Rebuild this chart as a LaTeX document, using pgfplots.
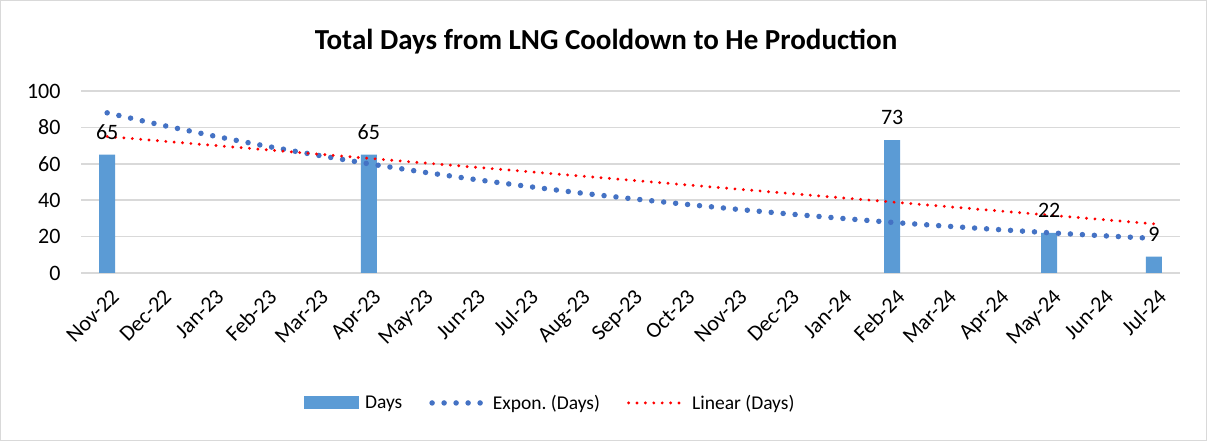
\documentclass[border=0pt]{standalone}
\usepackage{pgfplots}
\pgfplotsset{compat=1.18}
\usepackage{fontspec}
\setmainfont{Carlito}
\frenchspacing
\definecolor{barblue}{HTML}{5B9BD5}
\definecolor{expblue}{HTML}{4472C4}
\definecolor{gridgray}{HTML}{D9D9D9}
\tikzset{expline/.style={expblue, line width=5.5pt, line cap=round, dash pattern=on 0pt off 12pt},
         linline/.style={red, line width=3.2pt, line cap=round, dash pattern=on 0pt off 8.4pt}}
\begin{document}
\begin{tikzpicture}
\draw[gridgray, line width=1pt] (0.5pt,0.5pt) rectangle (1206.5pt,440.5pt);
\node[font=\bfseries\fontsize{29}{34}\selectfont, inner sep=0pt] at (606pt,399pt) {Total Days from LNG Cooldown to He Production};
\begin{axis}[
 at={(81pt,168pt)}, anchor=south west,
 width=1099pt, height=182pt, scale only axis,
 xmin=-0.5, xmax=20.5, ymin=0, ymax=100,
 ytick={0,20,...,100},
 xtick={0,...,20},
 xticklabels={Nov-22,Dec-22,Jan-23,Feb-23,Mar-23,Apr-23,May-23,Jun-23,Jul-23,Aug-23,Sep-23,Oct-23,Nov-23,Dec-23,Jan-24,Feb-24,Mar-24,Apr-24,May-24,Jun-24,Jul-24},
 xticklabel style={yshift=-12pt, xshift=3pt, rotate=45, anchor=north east, inner sep=2pt, font=\fontsize{22}{26}\selectfont},
 yticklabel style={anchor=east, font=\fontsize{22}{26}\selectfont, xshift=-17pt},
 /pgf/number format/assume math mode=true,
 tick style={draw=none},
 axis line style={draw=none},
 ymajorgrids, grid style={gridgray, line width=1.5pt},
 legend columns=3,
 legend style={at={(0.427,-0.714)}, anchor=center, draw=none, fill=none,
   font=\fontsize{19.5}{23}\selectfont,
   /tikz/every odd column/.append style={column sep=4pt},
   /tikz/every even column/.append style={column sep=25pt}},
]
\addplot[ybar, bar width=16pt, fill=barblue, draw=none,
  nodes near coords, nodes near coords style={font=\fontsize{22}{26}\selectfont, text=black, anchor=south, yshift=12pt},
  legend image code/.code={\fill[barblue] (0pt,-6.5pt) rectangle (55pt,6.5pt);}]
  coordinates {(0,65) (5,65) (15,73) (18,22) (20,9)};
\addlegendentry{Days}
\addplot[expline, mark=none,
  legend image code/.code={\draw[expline] (0pt,0pt) -- (52pt,0pt);}]
  coordinates {(0,88) (1,81.5) (2,75.5) (3,69.9) (4,64.8) (5,60.0) (6,55.6) (7,51.5) (8,47.7) (9,44.1) (10,40.9) (11,37.9) (12,35.1) (13,32.5) (14,30.1) (15,27.8) (16,25.8) (17,23.9) (18,22.1) (19,20.5) (20,19.0)};
\addlegendentry{Expon. (Days)}
\addplot[linline, mark=none,
  legend image code/.code={\draw[linline] (0pt,0pt) -- (56pt,0pt);}]
  coordinates {(0,75) (20,27)};
\addlegendentry{Linear (Days)}
\end{axis}
\end{tikzpicture}
\end{document}
